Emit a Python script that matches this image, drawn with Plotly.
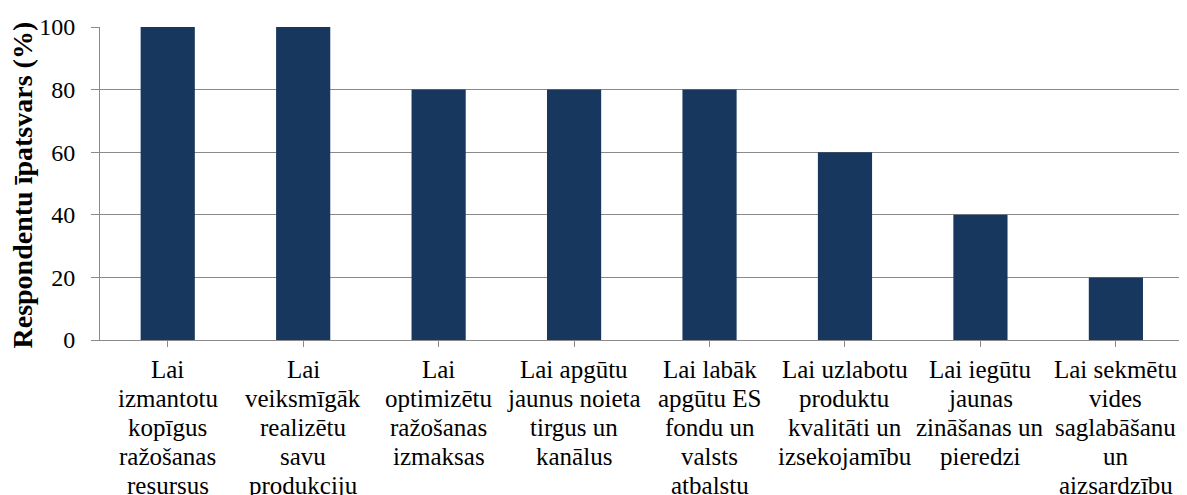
import plotly.graph_objects as go

categories = [
    "Lai\nizmantotu\nkopīgus\nražošanas\nresursus",
    "Lai\nveiksmīgāk\nrealizētu\nsavu\nprodukciju",
    "Lai\noptimizētu\nražošanas\nizmaksas",
    "Lai apgūtu\njaunus noieta\ntirgus un\nkanālus",
    "Lai labāk\napgūtu ES\nfondu un\nvalsts\natbalstu",
    "Lai uzlabotu\nproduktu\nkvalitāti un\nizsekojamību",
    "Lai iegūtu\njaunas\nzināšanas un\npieredzi",
    "Lai sekmētu\nvides\nsaglabāšanu\nun\naizsardzību",
]
values = [100, 100, 80, 80, 80, 60, 40, 20]
y_ticks = [0, 20, 40, 60, 80, 100]
y_title = "Respondentu īpatsvars (%)"

FONT = "Liberation Serif"
GRID = "#8a8a8a"
LABEL_SIZE = 25
LINE_GAP = 29

x_pos = list(range(len(categories)))

fig = go.Figure(
    go.Bar(
        x=x_pos,
        y=values,
        marker=dict(color="#17375E", line=dict(width=0)),
        hoverinfo="skip",
    )
)

fig.update_layout(
    width=1179,
    height=487,
    margin=dict(l=92, r=0, t=19, b=155, autoexpand=False),
    paper_bgcolor="white",
    plot_bgcolor="white",
    bargap=0.6,
    showlegend=False,
    font=dict(family=FONT, size=24, color="black"),
)

fig.update_xaxes(
    tickmode="array",
    tickvals=x_pos,
    ticktext=["" for _ in categories],
    range=[-0.5, 7.525],
    showline=True,
    linecolor=GRID,
    linewidth=1,
    ticks="outside",
    tickson="boundaries",
    ticklen=6,
    tickcolor=GRID,
    showgrid=False,
    zeroline=False,
    automargin=False,
)

fig.update_yaxes(
    range=[0, 100],
    tickmode="array",
    tickvals=y_ticks,
    showline=True,
    linecolor=GRID,
    linewidth=1,
    ticks="outside",
    ticklen=8,
    tickcolor=GRID,
    showgrid=True,
    gridcolor=GRID,
    gridwidth=1,
    zeroline=False,
    automargin=False,
    tickfont=dict(family=FONT, size=24, color="black"),
    ticklabelstandoff=11,
)

# category labels, one line each (Word-like tight line spacing)
for i, label in enumerate(categories):
    for j, line in enumerate(label.split("\n")):
        fig.add_annotation(
            x=x_pos[i], y=0, xref="x", yref="y",
            text=line, showarrow=False,
            xanchor="center", yanchor="middle",
            yshift=-(29.5 + j * LINE_GAP),
            font=dict(family=FONT, size=LABEL_SIZE, color="black"),
        )

# y axis title
fig.add_annotation(
    x=0, y=0.5, xref="paper", yref="paper",
    text=f"<b>{y_title}</b>", showarrow=False, textangle=-90,
    xanchor="center", yanchor="middle", xshift=-78, yshift=-2,
    font=dict(family=FONT, size=28, color="black"),
)

fig.write_html("out.html")
